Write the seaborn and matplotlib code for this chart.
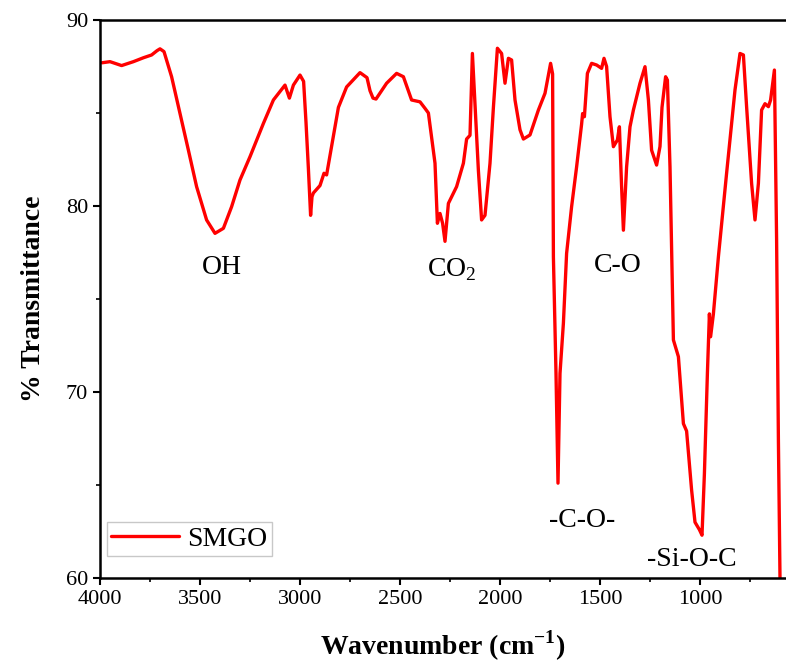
import pandas as pd
import matplotlib
matplotlib.use("Agg")
import matplotlib.pyplot as plt
from matplotlib.ticker import MultipleLocator
import seaborn as sns

# FTIR spectrum of SMGO
wavenumber = [3990, 3950, 3892, 3833, 3783, 3742, 3715, 3700, 3680, 3642,
              3600, 3558, 3517, 3467, 3425, 3383, 3342, 3300, 3250, 3183,
              3133, 3075, 3053, 3033, 3000, 2982, 2970, 2958, 2947, 2940,
              2933, 2900, 2880, 2867, 2842, 2808, 2767, 2700, 2665, 2650,
              2635, 2620, 2567, 2517, 2483, 2442, 2400, 2375, 2358, 2342,
              2325, 2313, 2300, 2287, 2275, 2258, 2217, 2183, 2167, 2150,
              2138, 2125, 2108, 2092, 2075, 2050, 2033, 2013, 1992, 1975,
              1958, 1942, 1925, 1900, 1883, 1850, 1808, 1775, 1747, 1737,
              1733, 1720, 1710, 1700, 1683, 1667, 1642, 1617, 1592, 1587,
              1578, 1563, 1542, 1517, 1492, 1480, 1467, 1450, 1433, 1413,
              1403, 1392, 1383, 1367, 1350, 1333, 1300, 1275, 1258, 1242,
              1217, 1200, 1190, 1172, 1163, 1150, 1133, 1108, 1083, 1067,
              1042, 1025, 1003, 990, 978, 963, 953, 947, 933, 908,
              867, 825, 800, 783, 767, 742, 725, 708, 692, 675,
              658, 647, 628, 617, 608, 600, 595]
transmittance = [87.7, 87.76, 87.55, 87.76, 87.97, 88.12, 88.35, 88.45, 88.3, 86.95,
                 84.98, 83.0, 81.04, 79.25, 78.53, 78.8, 79.96, 81.4, 82.65, 84.44,
                 85.7, 86.5, 85.8, 86.5, 87.04, 86.7, 84.5, 82.0, 79.5, 80.5,
                 80.7, 81.1, 81.76, 81.67, 83.2, 85.3, 86.4, 87.17, 86.9, 86.2,
                 85.8, 85.75, 86.6, 87.13, 86.95, 85.7, 85.6, 85.25, 85.0, 83.7,
                 82.3, 79.07, 79.6, 79.07, 78.1, 80.14, 81.04, 82.3, 83.6, 83.8,
                 88.2, 85.5, 81.9, 79.25, 79.5, 82.3, 85.3, 88.48, 88.2, 86.6,
                 87.94, 87.85, 85.7, 84.1, 83.6, 83.82, 85.16, 86.06, 87.67, 87.1,
                 77.27, 71.0, 65.1, 71.0, 73.7, 77.45, 79.96, 82.1, 84.4, 84.97,
                 84.8, 87.13, 87.67, 87.58, 87.4, 87.94, 87.5, 84.8, 83.19, 83.55,
                 84.26, 81.04, 78.7, 82.1, 84.26, 85.16, 86.6, 87.49, 85.7, 83.0,
                 82.2, 83.2, 85.3, 86.95, 86.77, 82.1, 72.8, 71.9, 68.3, 67.9,
                 64.73, 63.0, 62.6, 62.3, 65.6, 71.0, 74.2, 72.97, 74.2, 77.27,
                 81.76, 86.24, 88.2, 88.12, 85.34, 81.22, 79.25, 81.22, 85.16, 85.5,
                 85.34, 85.7, 87.31, 78.2, 67.4, 60.0, 57.0]

peak_labels = ["OH", "CO$_2$", "C-O", "-C-O-", "-Si-O-C"]
peak_x = [3390, 2240, 1410, 1590, 1040]
peak_y = [76.7, 76.6, 76.8, 63.1, 61.0]

df = pd.DataFrame({"wavenumber": wavenumber, "transmittance": transmittance})

sns.set_theme(style="ticks")
plt.rcParams["font.family"] = ["Liberation Serif", "DejaVu Serif"]
plt.rcParams["mathtext.fontset"] = "custom"
plt.rcParams["mathtext.rm"] = "Liberation Serif"
plt.rcParams["mathtext.bf"] = "Liberation Serif:bold"
plt.rcParams["text.color"] = "black"
plt.rcParams["axes.labelcolor"] = "black"
plt.rcParams["xtick.color"] = "black"
plt.rcParams["ytick.color"] = "black"

fig = plt.figure(figsize=(7.86, 6.72), dpi=100)
ax = fig.add_axes([100 / 786, 94 / 672, 686 / 786, 558 / 672])

sns.lineplot(data=df, x="wavenumber", y="transmittance", color="#ff0000",
             linewidth=2.4, sort=False, estimator=None, label="SMGO", ax=ax)

ax.set_xlim(4000, 570)
ax.set_ylim(60, 90)
ax.xaxis.set_major_locator(MultipleLocator(500))
ax.xaxis.set_minor_locator(MultipleLocator(250))
ax.yaxis.set_major_locator(MultipleLocator(10))
ax.yaxis.set_minor_locator(MultipleLocator(5))
ax.tick_params(which="major", direction="out", length=5, width=1.5,
               labelsize=16, colors="black", top=False, right=False)
ax.tick_params(which="minor", direction="out", length=3, width=1.2,
               colors="black", top=False, right=False)

for side in ["left", "bottom", "top"]:
    ax.spines[side].set_linewidth(1.8)
    ax.spines[side].set_color("black")
ax.spines["right"].set_visible(False)

ax.set_xlabel("Wavenumber (cm$^{\\mathbf{-1}}$)", fontsize=20,
              fontweight="bold", labelpad=14, color="black")
ax.set_ylabel("% Transmittance", fontsize=20, fontweight="bold",
              labelpad=14, color="black")

for lab, x, y in zip(peak_labels, peak_x, peak_y):
    ax.text(x, y, lab, ha="center", va="center", fontsize=20, color="black")

leg = ax.legend(loc="lower left", bbox_to_anchor=(0.010, 0.039),
                borderaxespad=0, fancybox=False, edgecolor="#c8c8c8",
                framealpha=1, fontsize=20, handlelength=2.45,
                handletextpad=0.3, borderpad=0.15)
leg.get_frame().set_linewidth(1.0)
for t in leg.get_texts():
    t.set_color("black")

fig.savefig("out.png", dpi=100)
